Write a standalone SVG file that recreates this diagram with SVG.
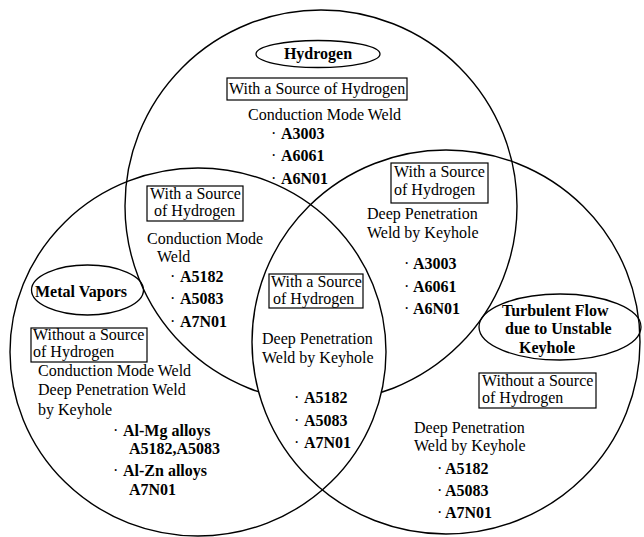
<svg xmlns="http://www.w3.org/2000/svg" width="644" height="537" viewBox="0 0 644 537">
<style>
.c{fill:none;stroke:#000;stroke-width:1.4}
.o{fill:none;stroke:#000;stroke-width:1.3}
.box{fill:none;stroke:#000;stroke-width:1.2}
text{font-family:"Liberation Serif","Times New Roman",serif;font-size:16px;fill:#000}
.b{font-weight:bold}
</style>
<defs>
<clipPath id="leftClip"><ellipse cx="198" cy="352" rx="188" ry="184"/></clipPath>
</defs>
<rect width="644" height="537" fill="#fff"/>
<g id="circles">
<circle id="circle-hydrogen" class="c" cx="321" cy="206" r="196"/>
<ellipse id="lens-mask" cx="446" cy="342" rx="194" ry="192" fill="#fff" stroke="none" clip-path="url(#leftClip)"/>
<ellipse id="circle-metal" class="c" cx="198" cy="352" rx="188" ry="184"/>
<ellipse id="circle-turbulent" class="c" cx="446" cy="342" rx="194" ry="192"/>
</g>
<g id="node-hydrogen">
<ellipse class="o" cx="318" cy="54" rx="62" ry="13.5"/>
<text class="b" x="318" y="59" text-anchor="middle">Hydrogen</text>
<rect class="box" x="227" y="78" width="180" height="22"/>
<text x="229" y="94">With a Source of Hydrogen</text>
<text x="248" y="120">Conduction Mode Weld</text>
<text x="271" y="139">·<tspan class="b" x="281">A3003</tspan></text>
<text x="271" y="161">·<tspan class="b" x="281">A6061</tspan></text>
<text x="271" y="184">·<tspan class="b" x="281">A6N01</tspan></text>
</g>
<g id="node-hydrogen-metal">
<rect class="box" x="147" y="186" width="96" height="35"/>
<text x="150" y="199">With a Source</text>
<text x="154" y="216">of Hydrogen</text>
<text x="147" y="244">Conduction Mode</text>
<text x="157" y="262">Weld</text>
<text x="170" y="282">·<tspan class="b" x="180">A5182</tspan></text>
<text x="170" y="304">·<tspan class="b" x="180">A5083</tspan></text>
<text x="170" y="327">·<tspan class="b" x="180">A7N01</tspan></text>
</g>
<g id="node-center">
<rect class="box" x="269" y="274" width="94" height="34"/>
<text x="271" y="287">With a Source</text>
<text x="273" y="304">of Hydrogen</text>
<text x="262" y="344">Deep Penetration</text>
<text x="262" y="363">Weld by Keyhole</text>
<text x="294" y="403">·<tspan class="b" x="304">A5182</tspan></text>
<text x="294" y="426">·<tspan class="b" x="304">A5083</tspan></text>
<text x="294" y="448">·<tspan class="b" x="304">A7N01</tspan></text>
</g>
<g id="node-hydrogen-turbulent">
<rect class="box" x="391" y="163" width="97" height="40"/>
<text x="394" y="177">With a Source</text>
<text x="394" y="195">of Hydrogen</text>
<text x="367" y="219">Deep Penetration</text>
<text x="367" y="238">Weld by Keyhole</text>
<text x="404" y="269">·<tspan class="b" x="413">A3003</tspan></text>
<text x="404" y="292">·<tspan class="b" x="413">A6061</tspan></text>
<text x="404" y="314">·<tspan class="b" x="413">A6N01</tspan></text>
</g>
<g id="node-metal">
<ellipse class="o" cx="87.5" cy="290" rx="56" ry="25"/>
<text class="b" x="35" y="297">Metal Vapors</text>
<rect class="box" x="31" y="328" width="116" height="34"/>
<text x="33" y="340">Without a Source</text>
<text x="33" y="357">of Hydrogen</text>
<text x="38" y="376">Conduction Mode Weld</text>
<text x="38" y="395">Deep Penetration Weld</text>
<text x="38" y="415">by Keyhole</text>
<text x="113" y="436">·<tspan class="b" x="123">Al-Mg alloys</tspan></text>
<text class="b" x="129" y="454">A5182,A5083</text>
<text x="113" y="476">·<tspan class="b" x="123">Al-Zn alloys</tspan></text>
<text class="b" x="129" y="495">A7N01</text>
</g>
<g id="node-turbulent">
<ellipse class="o" cx="560" cy="327" rx="81" ry="33"/>
<text class="b" x="502" y="316">Turbulent Flow</text>
<text class="b" x="505" y="334">due to Unstable</text>
<text class="b" x="519" y="353">Keyhole</text>
<rect class="box" x="479" y="373" width="117" height="35"/>
<text x="482" y="386">Without a Source</text>
<text x="482" y="403">of Hydrogen</text>
<text x="414" y="433">Deep Penetration</text>
<text x="414" y="451">Weld by Keyhole</text>
<text x="437" y="474">·<tspan class="b" x="445">A5182</tspan></text>
<text x="437" y="496">·<tspan class="b" x="445">A5083</tspan></text>
<text x="437" y="518">·<tspan class="b" x="445">A7N01</tspan></text>
</g>
<g id="connectors"></g>
</svg>
